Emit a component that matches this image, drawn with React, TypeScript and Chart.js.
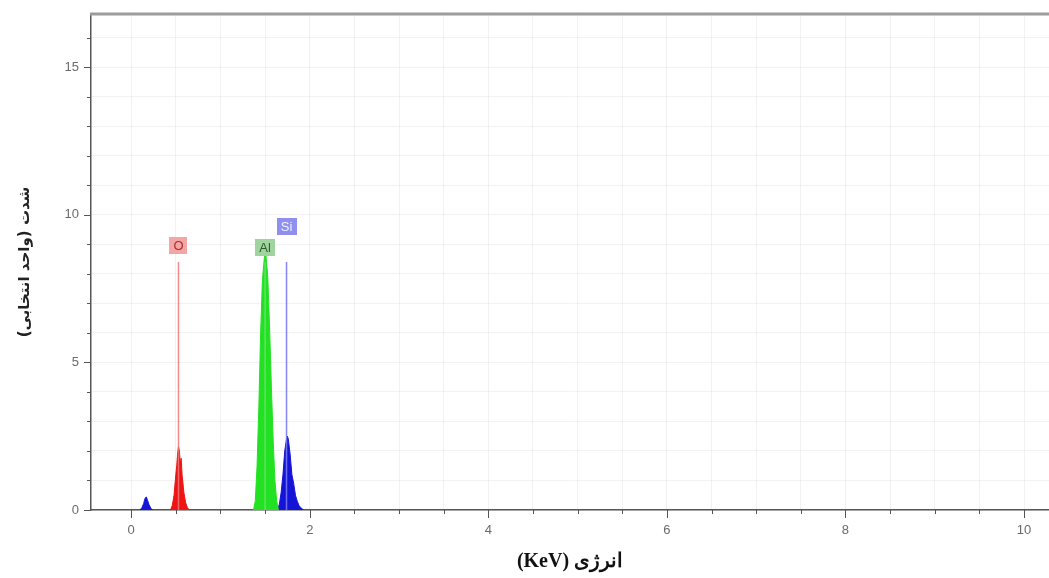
import React, { useEffect, useRef } from 'react';
import { Chart, registerables } from 'chart.js';

Chart.register(...registerables);

// Energy axis (keV) and counts for each spectrum segment
const lowPeakEnergy = [0.10, 0.12, 0.14, 0.15, 0.16, 0.17, 0.18, 0.20, 0.22, 0.24];
const lowPeakCounts = [0, 0.08, 0.22, 0.34, 0.42, 0.44, 0.36, 0.18, 0.06, 0];

const oxygenEnergy = [0.44, 0.46, 0.48, 0.50, 0.51, 0.52, 0.53, 0.54, 0.55, 0.56, 0.57, 0.59, 0.61, 0.63, 0.65];
const oxygenCounts = [0, 0.15, 0.5, 1.2, 1.5, 1.9, 2.15, 2.0, 1.6, 1.75, 1.2, 0.6, 0.25, 0.08, 0];

const aluminiumEnergy = [1.37, 1.39, 1.41, 1.43, 1.45, 1.47, 1.49, 1.50, 1.51, 1.53, 1.55, 1.57, 1.59, 1.61, 1.63, 1.65];
const aluminiumCounts = [0, 0.3, 1.5, 3.5, 6.0, 7.8, 8.5, 8.7, 8.6, 7.9, 6.2, 4.2, 2.4, 1.0, 0.3, 0];

const siliconEnergy = [1.64, 1.66, 1.68, 1.70, 1.72, 1.74, 1.75, 1.76, 1.78, 1.80, 1.82, 1.84, 1.86, 1.88, 1.90, 1.93];
const siliconCounts = [0, 0.2, 0.6, 1.2, 2.0, 2.4, 2.5, 2.4, 1.9, 1.2, 0.9, 0.5, 0.3, 0.15, 0.08, 0];

// Element identification markers
const elementNames = ['O', 'Al', 'Si'];
const elementLines = [0.53, 1.50, 1.74];
const markerHeights = [8.4, 8.4, 8.4];
const labelHeights = [8.95, 8.9, 9.6];
const markerColors = ['rgba(240,120,120,0.85)', 'rgba(110,225,110,0.85)', 'rgba(120,120,245,0.9)'];
const boxColors = ['#f2a6a6', '#9fd49f', '#8f8ff0'];
const boxTextColors = ['#b02a2a', '#2f5a2f', '#eef0ff'];

// Axis settings
const xMin = -0.45;
const xMax = 10.28;
const xMinorStep = 0.5;
const xLabelStep = 2;
const xLastTick = 10;
const yMin = 0;
const yMax = 16.8;
const yMinorStep = 1;
const yLabelStep = 5;
const yLastTick = 16;
const xTitle = 'انرژی (KeV)';
const yTitle = 'شدت (واحد انتخابی)';

const toPoints = (xs: number[], ys: number[]) => xs.map((x, i) => ({ x, y: ys[i] }));

const isMultiple = (v: number, step: number) => Math.abs(v / step - Math.round(v / step)) < 1e-6;

const stepTicks = (step: number, last: number) => {
  const out: { value: number }[] = [];
  for (let i = 0; i * step <= last + 1e-9; i++) out.push({ value: Math.round(i * step * 100) / 100 });
  return out;
};

const tickMarks = {
  id: 'tickMarks',
  afterDraw(chart: any) {
    const { ctx, chartArea, scales } = chart;
    ctx.save();
    ctx.strokeStyle = '#555';
    ctx.lineWidth = 1;
    for (const t of scales.x.ticks) {
      const px = Math.round(scales.x.getPixelForValue(t.value)) + 0.5;
      const len = isMultiple(t.value, xLabelStep) ? 8 : 4;
      ctx.beginPath();
      ctx.moveTo(px, chartArea.bottom);
      ctx.lineTo(px, chartArea.bottom + len);
      ctx.stroke();
    }
    for (const t of scales.y.ticks) {
      const py = Math.round(scales.y.getPixelForValue(t.value)) + 0.5;
      const len = isMultiple(t.value, yLabelStep) ? 7 : 4;
      ctx.beginPath();
      ctx.moveTo(chartArea.left - len, py);
      ctx.lineTo(chartArea.left, py);
      ctx.stroke();
    }
    // top frame edge
    ctx.strokeStyle = '#9c9c9c';
    ctx.lineWidth = 3;
    ctx.beginPath();
    ctx.moveTo(chartArea.left - 1, chartArea.top);
    ctx.lineTo(chartArea.right, chartArea.top);
    ctx.stroke();
    ctx.restore();
  },
};

const elementLabels = {
  id: 'elementLabels',
  afterDatasetsDraw(chart: any) {
    const { ctx, scales } = chart;
    ctx.save();
    ctx.font = '13px "Liberation Sans", Arial, sans-serif';
    ctx.textAlign = 'center';
    ctx.textBaseline = 'middle';
    elementNames.forEach((name, i) => {
      const cx = scales.x.getPixelForValue(elementLines[i]);
      const cy = scales.y.getPixelForValue(labelHeights[i]);
      const w = Math.max(17, ctx.measureText(name).width + 8);
      const h = 17;
      ctx.fillStyle = boxColors[i];
      ctx.fillRect(Math.round(cx - w / 2), Math.round(cy - h / 2), Math.round(w), h);
      ctx.fillStyle = boxTextColors[i];
      ctx.fillText(name, cx, cy + 1);
    });
    ctx.restore();
  },
};

export default function App() {
  const canvasRef = useRef<HTMLCanvasElement | null>(null);

  useEffect(() => {
    if (!canvasRef.current) return;
    const fillSet = (label: string, xs: number[], ys: number[], color: string) => ({
      label,
      data: toPoints(xs, ys),
      borderColor: color,
      backgroundColor: color,
      borderWidth: 1,
      pointRadius: 0,
      tension: 0,
      fill: 'origin',
      order: 2,
    });
    const markerSets = elementNames.map((name, i) => ({
      label: name + ' line',
      data: [
        { x: elementLines[i], y: 0 },
        { x: elementLines[i], y: markerHeights[i] },
      ],
      borderColor: markerColors[i],
      borderWidth: 1.5,
      pointRadius: 0,
      fill: false,
      order: 1,
    }));

    const chart = new Chart(canvasRef.current, {
      type: 'line',
      data: {
        datasets: [
          fillSet('low', lowPeakEnergy, lowPeakCounts, '#1414d6'),
          fillSet('O', oxygenEnergy, oxygenCounts, '#ee1414'),
          fillSet('Al', aluminiumEnergy, aluminiumCounts, '#22e022'),
          fillSet('Si', siliconEnergy, siliconCounts, '#1414d6'),
          ...markerSets,
        ] as any,
      },
      options: {
        responsive: false,
        animation: false,
        layout: { padding: { top: 14, right: 0, left: 0, bottom: 0 } },
        plugins: { legend: { display: false }, tooltip: { enabled: false } },
        scales: {
          x: {
            type: 'linear',
            min: xMin,
            max: xMax,
            afterBuildTicks: (s: any) => { s.ticks = stepTicks(xMinorStep, xLastTick); },
            afterFit: (s: any) => { s.height = 68; s.paddingLeft = 0; s.paddingRight = 0; },
            border: { display: true, color: '#555', width: 1.5 },
            grid: { drawTicks: false, color: 'rgba(0,0,0,0.05)' },
            ticks: {
              autoSkip: false,
              maxRotation: 0,
              padding: 13,
              color: '#6a6a6a',
              font: { family: '"Liberation Sans", Arial, sans-serif', size: 13 },
              callback: (v: any) => (isMultiple(Number(v), xLabelStep) ? String(v) : ''),
            },
            title: {
              display: true,
              text: xTitle,
              color: '#111',
              font: { family: '"Liberation Serif", "DejaVu Serif", serif', size: 20, weight: 'bold' },
              padding: { top: 0, bottom: 4 },
            },
          },
          y: {
            type: 'linear',
            min: yMin,
            max: yMax,
            afterBuildTicks: (s: any) => { s.ticks = stepTicks(yMinorStep, yLastTick); },
            afterFit: (s: any) => { s.width = 91; s.paddingTop = 0; s.paddingBottom = 0; },
            border: { display: true, color: '#555', width: 1.5 },
            grid: { drawTicks: false, color: 'rgba(0,0,0,0.05)' },
            ticks: {
              autoSkip: false,
              padding: 12,
              color: '#6a6a6a',
              font: { family: '"Liberation Sans", Arial, sans-serif', size: 13 },
              callback: (v: any) => (isMultiple(Number(v), yLabelStep) ? String(v) : ''),
            },
            title: {
              display: true,
              text: yTitle,
              color: '#222',
              font: { family: '"DejaVu Sans", sans-serif', size: 15, weight: 'bold' },
              padding: { top: 16, bottom: 0 },
            },
          },
        },
      },
      plugins: [tickMarks, elementLabels],
    });
    return () => chart.destroy();
  }, []);

  return (
    <div style={{ position: 'fixed', left: 0, top: 0, width: 1049, height: 578, background: '#fff' }}>
      <canvas ref={canvasRef} width={1049} height={578} dir="rtl" style={{ direction: 'rtl' }} />
    </div>
  );
}
